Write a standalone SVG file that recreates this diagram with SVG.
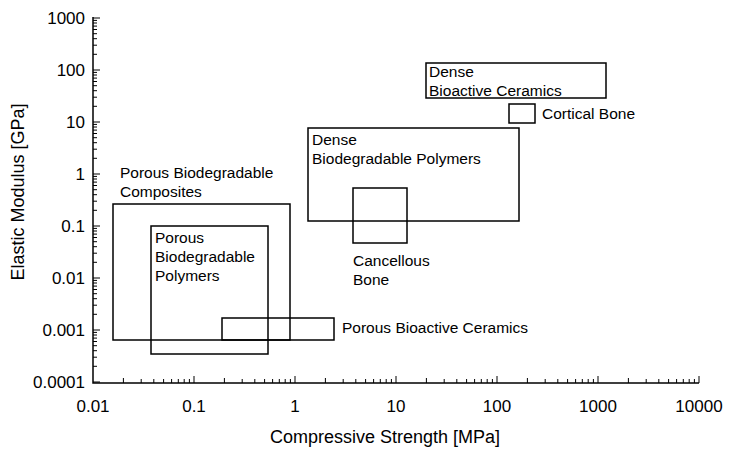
<svg xmlns="http://www.w3.org/2000/svg" width="738" height="455" viewBox="0 0 738 455">
<style>
.ax{stroke:#000;stroke-width:1.5;fill:none}
.tk{stroke:#000;stroke-width:1;fill:none}
.bx{stroke:#000;stroke-width:1.5;fill:none}
text{font-family:"Liberation Sans",Arial,sans-serif;font-size:15.5px;fill:#000}
.tl{font-size:17px}
.tt{font-size:18px}
</style>
<rect width="738" height="455" fill="#fff"/>
<g id="axes">
<path class="ax" d="M93 17V383H699"/>
<path class="tk" d="M93 382h7M93 330h7M93 278h7M93 226h7M93 174h7M93 122h7M93 70h7M93 18h7
M93 366.3h4M93 357.2h4M93 350.7h4M93 345.7h4M93 341.5h4M93 338.1h4M93 335h4M93 332.4h4
M93 314.3h4M93 305.2h4M93 298.7h4M93 293.7h4M93 289.5h4M93 286.1h4M93 283h4M93 280.4h4
M93 262.3h4M93 253.2h4M93 246.7h4M93 241.7h4M93 237.5h4M93 234.1h4M93 231h4M93 228.4h4
M93 210.3h4M93 201.2h4M93 194.7h4M93 189.7h4M93 185.5h4M93 182.1h4M93 179h4M93 176.4h4
M93 158.3h4M93 149.2h4M93 142.7h4M93 137.7h4M93 133.5h4M93 130.1h4M93 127h4M93 124.4h4
M93 106.3h4M93 97.2h4M93 90.7h4M93 85.7h4M93 81.5h4M93 78.1h4M93 75h4M93 72.4h4
M93 54.3h4M93 45.2h4M93 38.7h4M93 33.7h4M93 29.5h4M93 26.1h4M93 23h4M93 20.4h4"/>
<path class="tk" d="M194 383v-7M295 383v-7M396 383v-7M497 383v-7M598 383v-7M699 383v-7
M123.4 383v-5M141.2 383v-4M153.8 383v-4M163.6 383v-4M171.6 383v-4M178.3 383v-4M184.2 383v-4M189.4 383v-4
M224.4 383v-5M242.2 383v-4M254.8 383v-4M264.6 383v-4M272.6 383v-4M279.3 383v-4M285.2 383v-4M290.4 383v-4
M325.4 383v-5M343.2 383v-4M355.8 383v-4M365.6 383v-4M373.6 383v-4M380.3 383v-4M386.2 383v-4M391.4 383v-4
M426.4 383v-5M444.2 383v-4M456.8 383v-4M466.6 383v-4M474.6 383v-4M481.3 383v-4M487.2 383v-4M492.4 383v-4
M527.4 383v-5M545.2 383v-4M557.8 383v-4M567.6 383v-4M575.6 383v-4M582.3 383v-4M588.2 383v-4M593.4 383v-4
M628.4 383v-5M646.2 383v-4M658.8 383v-4M668.6 383v-4M676.6 383v-4M683.3 383v-4M689.2 383v-4M694.4 383v-4"/>
<g text-anchor="end">
<text class="tl" x="85" y="24">1000</text><text class="tl" x="85" y="76">100</text><text class="tl" x="85" y="128">10</text><text class="tl" x="85" y="180">1</text><text class="tl" x="85" y="232">0.1</text><text class="tl" x="85" y="284">0.01</text><text class="tl" x="85" y="336">0.001</text><text class="tl" x="85" y="388">0.0001</text>
</g>
<g text-anchor="middle">
<text class="tl" x="93" y="412">0.01</text><text class="tl" x="194" y="412">0.1</text><text class="tl" x="295" y="412">1</text><text class="tl" x="396" y="412">10</text><text class="tl" x="497" y="412">100</text><text class="tl" x="598" y="412">1000</text><text class="tl" x="699" y="412">10000</text>
<text class="tt" x="385" y="443">Compressive Strength [MPa]</text>
<text class="tt" transform="translate(24 192) rotate(-90)">Elastic Modulus [GPa]</text>
</g>
</g>
<g id="pbc">
<rect class="bx" x="113" y="204" width="177" height="136"/>
<text x="120" y="178">Porous Biodegradable</text><text x="120" y="197">Composites</text>
</g>
<g id="pbp">
<rect class="bx" x="151" y="226" width="117" height="128" fill="#fff"/>
<text x="155" y="243">Porous</text><text x="155" y="262">Biodegradable</text><text x="155" y="281">Polymers</text>
</g>
<g id="pbcer">
<rect class="bx" x="222" y="318" width="112" height="22" fill="#fff"/>
<text x="342" y="333">Porous Bioactive Ceramics</text>
</g>
<g id="dbp">
<rect class="bx" x="308" y="128" width="211" height="93"/>
<text x="312" y="145">Dense</text><text x="312" y="164">Biodegradable Polymers</text>
</g>
<g id="cancellous">
<rect class="bx" x="353" y="188" width="54" height="55" fill="#fff"/>
<text x="353" y="266">Cancellous</text><text x="353" y="285">Bone</text>
</g>
<g id="dbc">
<rect class="bx" x="426" y="63" width="180" height="35"/>
<text x="429" y="77">Dense</text><text x="429" y="96">Bioactive Ceramics</text>
</g>
<g id="cortical">
<rect class="bx" x="509" y="104" width="26" height="19"/>
<text x="542" y="119">Cortical Bone</text>
</g>
<g id="connectors"/>
</svg>
